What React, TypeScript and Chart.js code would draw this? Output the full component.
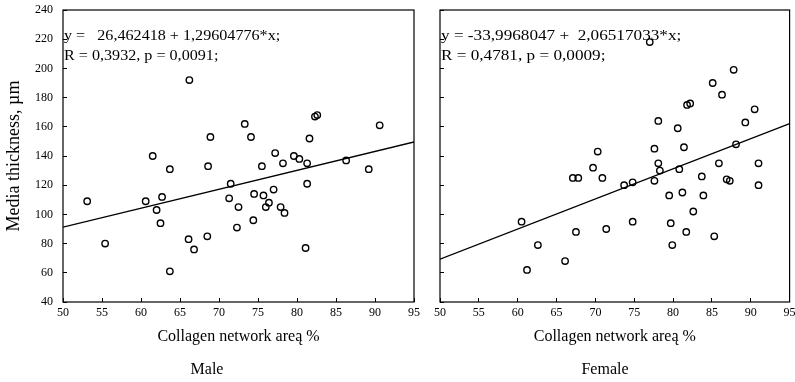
import React, { useEffect, useRef } from "react";
import { Chart, registerables } from "chart.js";

Chart.register(...registerables);

const FONT = "'Liberation Serif', 'Times New Roman', serif";

const xMin = 50;
const xMax = 95;
const xStep = 5;
const yMin = 40;
const yMax = 240;
const yStep = 20;

const yAxisTitle = "Media thickness, µm";
const xAxisTitle = "Collagen network areą %";
const panelTitles = ["Male", "Female"];

const maleX = [53.1, 55.4, 60.6, 61.5, 62.0, 62.5, 62.7, 63.7, 63.7, 66.1, 66.2, 66.8, 68.5, 68.6, 68.9, 71.3, 71.5, 72.3, 72.5, 73.3, 74.1, 74.4, 74.5, 75.5, 75.7, 76.0, 76.4, 77.0, 77.2, 77.9, 78.2, 78.4, 79.6, 80.3, 81.1, 81.3, 81.3, 81.6, 82.3, 82.6, 86.3, 89.2, 90.6];
const maleY = [109, 80, 109, 140, 103, 94, 112, 131, 61, 83, 192, 76, 85, 133, 153, 111, 121, 91, 105, 162, 153, 96, 114, 133, 113, 105, 108, 117, 142, 105, 135, 101, 140, 138, 77, 121, 135, 152, 167, 168, 137, 131, 161];

const femaleX = [60.5, 61.2, 62.6, 66.1, 67.1, 67.5, 67.8, 69.7, 70.3, 70.9, 71.4, 73.7, 74.8, 74.8, 77.0, 77.6, 77.6, 78.1, 78.1, 78.3, 79.5, 79.7, 79.9, 80.6, 80.8, 81.2, 81.4, 81.7, 81.8, 82.2, 82.6, 83.7, 83.9, 85.1, 85.3, 85.9, 86.3, 86.9, 87.3, 87.8, 88.1, 89.3, 90.5, 91.0, 91.0];
const femaleY = [95, 62, 79, 68, 125, 88, 125, 132, 143, 125, 90, 120, 122, 95, 218, 123, 145, 135, 164, 130, 113, 94, 79, 159, 131, 115, 146, 88, 175, 176, 102, 126, 113, 190, 85, 135, 182, 124, 123, 199, 148, 163, 172, 135, 120];

const maleFitX = [50, 95];
const maleFitY = [91.3, 149.6];
const femaleFitX = [50, 95];
const femaleFitY = [69.3, 162.2];

const maleText = ["y =   26,462418 + 1,29604776*x;", "R = 0,3932, p = 0,0091;"];
const femaleText = ["y = -33,9968047 +  2,06517033*x;", "R = 0,4781, p = 0,0009;"];

const framePlugin = {
  id: "frame",
  afterDraw(chart: any, _args: any, opts: any) {
    const { ctx, chartArea } = chart;
    const { left, top, right, bottom } = chartArea;
    ctx.save();
    ctx.strokeStyle = "#000";
    ctx.lineWidth = 1.2;
    ctx.strokeRect(left, top, right - left, bottom - top);
    ctx.fillStyle = "#000";
    ctx.font = `15px ${FONT}`;
    ctx.textBaseline = "alphabetic";
    ctx.textAlign = "left";
    const lines: string[] = opts.lines || [];
    const sx: number = opts.stretch || 1;
    lines.forEach((t, i) => {
      ctx.save();
      ctx.translate(left + 1, top + 30 + i * 19.5);
      ctx.scale(sx, 1);
      ctx.fillText(t, 0, 0);
      ctx.restore();
    });
    ctx.restore();
  },
};

type PanelCfg = {
  xs: number[];
  ys: number[];
  fitX: number[];
  fitY: number[];
  lines: string[];
  stretch: number;
  title: string;
  showYLabels: boolean;
  yAxisWidth: number;
  padRight: number;
};

function makeConfig(c: PanelCfg): any {
  const tickFont = { family: FONT, size: 12 };
  const titleFont = { family: FONT, size: 16, weight: "normal" as const, lineHeight: 1.2 };
  const yTitleFont = { family: FONT, size: 18, weight: "normal" as const, lineHeight: 1.2 };
  return {
    type: "scatter",
    data: {
      datasets: [
        {
          data: c.fitX.map((x, i) => ({ x, y: c.fitY[i] })),
          showLine: true,
          borderColor: "#000",
          borderWidth: 1.3,
          pointRadius: 0,
          fill: false,
        },
        {
          data: c.xs.map((x, i) => ({ x, y: c.ys[i] })),
          showLine: false,
          pointRadius: 3.2,
          pointBorderWidth: 1.4,
          pointBorderColor: "#000",
          pointBackgroundColor: "rgba(0,0,0,0)",
        },
      ],
    },
    options: {
      animation: false,
      responsive: false,
      events: [],
      layout: { padding: { left: 0, top: 10, right: c.padRight, bottom: 0 } },
      plugins: {
        legend: { display: false },
        tooltip: { enabled: false },
        title: {
          display: true,
          text: c.title,
          position: "bottom",
          color: "#000",
          font: titleFont,
          padding: { top: 0, bottom: 2.4 },
        },
        frame: { lines: c.lines, stretch: c.stretch },
      },
      scales: {
        x: {
          type: "linear",
          min: xMin,
          max: xMax,
          ticks: { stepSize: xStep, color: "#000", font: tickFont, padding: 8, maxRotation: 0 },
          grid: { drawOnChartArea: false, tickLength: -4, color: "#000", lineWidth: 1 },
          border: { display: false },
          title: {
            display: true,
            text: xAxisTitle,
            color: "#000",
            font: titleFont,
            padding: { top: 0, bottom: 13.8 },
          },
          afterFit: (s: any) => {
            s.height = 58.4;
            s.paddingLeft = 0;
            s.paddingRight = 0;
          },
        },
        y: {
          type: "linear",
          min: yMin,
          max: yMax,
          ticks: { stepSize: yStep, color: "#000", font: tickFont, padding: 14, display: c.showYLabels },
          grid: { drawOnChartArea: false, tickLength: -4, color: "#000", lineWidth: 1 },
          border: { display: false },
          title: {
            display: c.showYLabels,
            text: yAxisTitle,
            color: "#000",
            font: yTitleFont,
            padding: { top: 3, bottom: 0 },
          },
          afterFit: (s: any) => {
            s.width = c.yAxisWidth;
            s.paddingTop = 0;
            s.paddingBottom = 0;
          },
        },
      },
    },
    plugins: [framePlugin],
  };
}

function Panel({ cfg, left, width }: { cfg: PanelCfg; left: number; width: number }) {
  const ref = useRef<HTMLCanvasElement | null>(null);
  useEffect(() => {
    if (!ref.current) return;
    const chart = new Chart(ref.current, makeConfig(cfg));
    return () => chart.destroy();
  }, []);
  return (
    <canvas
      ref={ref}
      width={width}
      height={382}
      style={{ position: "absolute", left, top: 0, width, height: 382, display: "block" }}
    />
  );
}

export default function App() {
  const male: PanelCfg = {
    xs: maleX,
    ys: maleY,
    fitX: maleFitX,
    fitY: maleFitY,
    lines: maleText,
    stretch: 1.075,
    title: panelTitles[0],
    showYLabels: true,
    yAxisWidth: 63,
    padRight: 6,
  };
  const female: PanelCfg = {
    xs: femaleX,
    ys: femaleY,
    fitX: femaleFitX,
    fitY: femaleFitY,
    lines: femaleText,
    stretch: 1.145,
    title: panelTitles[1],
    showYLabels: false,
    yAxisWidth: 20,
    padRight: 5,
  };
  return (
    <div style={{ position: "absolute", left: 0, top: 0, width: 795, height: 382, background: "#fff", overflow: "hidden" }}>
      <Panel cfg={male} left={0} width={420} />
      <Panel cfg={female} left={420} width={375} />
    </div>
  );
}
